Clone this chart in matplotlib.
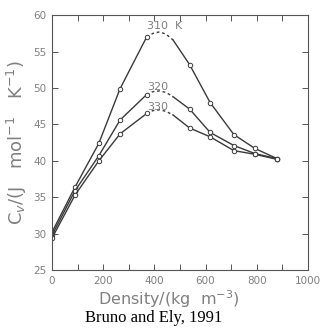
import matplotlib
matplotlib.use('Agg')
import matplotlib.pyplot as plt

# measured points (kg/m3, J/mol/K)
density = [0, 90, 183, 266, 370, 538, 618, 711, 793, 880]
cv_310 = [30.2, 36.4, 42.4, 49.9, 57.0, 53.2, 48.0, 43.6, 41.7, 40.3]
cv_320 = [29.8, 35.9, 40.7, 45.6, 49.1, 47.1, 43.9, 42.1, 41.0, 40.3]
cv_330 = [29.4, 35.3, 40.0, 43.7, 46.5, 44.5, 43.3, 41.4, 40.9, 40.2]

# dashed part across the maximum
peak_density = [370, 395, 420, 445, 473]
peak_310 = [57.0, 57.5, 57.7, 57.4, 56.6]
peak_320 = [49.1, 49.5, 49.6, 49.4, 48.8]
peak_330 = [46.5, 46.9, 47.0, 46.8, 46.3]

labels = ['310  K', '320', '330']
label_y = [58.5, 50.1, 47.4]

line_col = '#3a3a3a'
text_col = '#808080'

fig = plt.figure(figsize=(3.21, 3.29), dpi=100)
ax = fig.add_axes([0.162, 0.179, 0.797, 0.775])

series = [(cv_310, peak_310), (cv_320, peak_320), (cv_330, peak_330)]
for cv, peak in series:
    # solid on both sides of the dashed maximum
    ax.plot(density[:5], cv[:5], color=line_col, lw=1.0)
    ax.plot([peak_density[-1]] + density[5:], [peak[-1]] + cv[5:], color=line_col, lw=1.0)
    ax.plot(peak_density, peak, color=line_col, lw=1.0, ls=(0, (2, 2)))
    ax.plot(density, cv, ls='none', marker='o', ms=3.2, mfc='white', mec=line_col, mew=0.7)

for lab, y in zip(labels, label_y):
    ax.text(372, y, lab, color=text_col, fontsize=8, va='center', ha='left')

ax.set_xlim(0, 1000)
ax.set_ylim(25, 60)
ax.set_xticks([0, 200, 400, 600, 800, 1000])
ax.set_xticks(range(100, 1000, 200), minor=True)
ax.set_yticks(range(25, 61, 5))
ax.tick_params(which='both', direction='in', top=True, right=True,
               labelsize=7.5, labelcolor=text_col, color='#555555', width=0.7)
ax.tick_params(which='major', length=4, pad=4)
ax.tick_params(which='minor', length=4)
for s in ax.spines.values():
    s.set_color('#555555')
    s.set_linewidth(0.8)

ax.set_xlabel(r'Density/(kg  m$^{-3}$)', color=text_col, fontsize=11.5)
ax.xaxis.set_label_coords(0.455, -0.073)
ax.set_ylabel(r'C$_v$/(J   mol$^{-1}$   K$^{-1}$)', color=text_col, fontsize=13, labelpad=3)

fig.text(0.48, 0.02, 'Bruno and Ely, 1991', ha='center', va='baseline',
         fontsize=12, family='Liberation Serif', color='black')

fig.savefig('out.png', dpi=100)
plt.close(fig)
